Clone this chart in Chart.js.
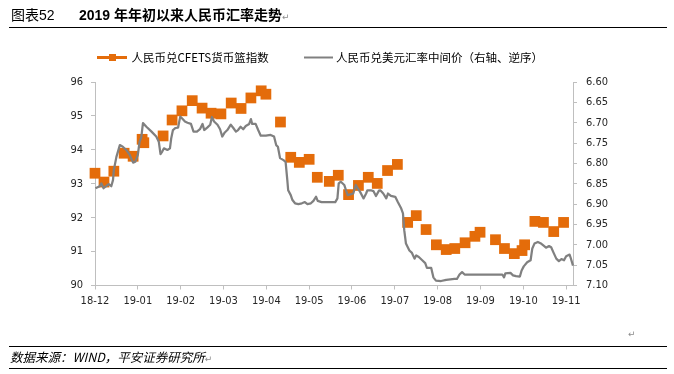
<!DOCTYPE html>
<html>
<head>
<meta charset="utf-8">
<script src="https://cdn.jsdelivr.net/npm/chart.js@4.4.1/dist/chart.umd.min.js"></script>
<style>
  html, body { margin:0; padding:0; background:#fff; width:674px; height:374px; overflow:hidden; }
  body { position:relative; font-family:"Liberation Sans","Noto Sans CJK SC",sans-serif; color:#000; }
  #c { position:absolute; left:0; top:0; }
  .txt { position:absolute; white-space:nowrap; line-height:16px; }
  .rule { position:absolute; left:9px; width:658px; height:1px; background:#000; }
  .pm { color:#8c8c8c; font-size:9px; font-family:"DejaVu Sans",sans-serif; }
</style>
</head>
<body>
<canvas id="c" width="674" height="374"></canvas>
<div class="txt" style="left:11px;top:7px;font-size:14px;">图表52</div>
<div class="txt" style="left:79px;top:7px;font-size:14px;font-weight:bold;">2019 年年初以来人民币汇率走势<span class="pm" style="font-weight:normal;">↵</span></div>
<div class="rule" style="top:27px;"></div>
<div class="txt pm" style="left:628px;top:326px;">↵</div>
<div class="rule" style="top:346px;"></div>
<div class="txt" style="left:10px;top:349px;font-size:12.5px;font-style:italic;font-family:'Noto Sans CJK SC',sans-serif;">数据来源：WIND，平安证券研究所<span class="pm" style="font-style:normal;">↵</span></div>
<div class="rule" style="top:368px;"></div>
<script>
// ---- data ----
const monthLabels = ['18-12','19-01','19-02','19-03','19-04','19-05','19-06','19-07','19-08','19-09','19-10','19-11'];
const leftTicks = [90, 91, 92, 93, 94, 95, 96];
const rightTicks = [6.60, 6.65, 6.70, 6.75, 6.80, 6.85, 6.90, 6.95, 7.00, 7.05, 7.10];
const seriesNames = ['人民币兑CFETS货币篮指数', '人民币兑美元汇率中间价（右轴、逆序）'];

// CFETS basket index (weekly), position in months since Dec 2018
const cfetsPos = [0.00,0.21,0.44,0.68,0.89,1.10,1.14,1.59,1.80,2.03,2.27,2.50,2.71,2.94,3.18,3.41,3.64,3.88,3.99,4.33,
  4.57,4.77,5.00,5.19,5.47,5.68,5.92,6.15,6.38,6.59,6.83,7.06,7.30,7.50,7.73,7.97,8.20,8.40,8.64,8.87,
  8.99,9.35,9.56,9.79,9.97,10.03,10.27,10.47,10.71,10.94];
const cfetsVals = [93.31,93.05,93.37,93.90,93.81,94.31,94.21,94.41,94.88,95.15,95.45,95.23,95.08,95.06,95.38,95.22,95.53,95.74,95.64,94.82,
  93.78,93.63,93.72,93.19,93.07,93.25,92.68,92.95,93.19,93.01,93.39,93.57,91.86,92.06,91.65,91.20,91.06,91.09,91.26,91.45,
  91.57,91.35,91.09,90.94,91.03,91.20,91.89,91.86,91.59,91.86];

// USD/CNY central parity (right axis, reversed)
const usdPos = [0.01,0.11,0.15,0.20,0.26,0.32,0.38,0.42,0.44,0.50,0.58,0.65,0.73,0.81,0.89,0.94,1.00,1.04,1.08,1.12,
  1.20,1.32,1.43,1.49,1.53,1.57,1.61,1.69,1.75,1.78,1.82,1.88,1.94,1.99,2.03,2.10,2.16,2.24,2.30,2.38,
  2.45,2.51,2.55,2.62,2.69,2.73,2.78,2.86,2.92,2.97,3.03,3.09,3.17,3.23,3.29,3.34,3.40,3.46,3.52,3.60,
  3.64,3.67,3.75,3.81,3.87,3.99,4.10,4.18,4.23,4.27,4.32,4.40,4.45,4.49,4.51,4.57,4.61,4.67,4.75,4.83,
  4.90,4.96,5.04,5.10,5.16,5.20,5.29,5.45,5.61,5.66,5.69,5.74,5.82,5.86,5.90,5.96,6.03,6.09,6.13,6.19,
  6.27,6.33,6.36,6.44,6.50,6.56,6.63,6.66,6.73,6.80,6.84,6.91,7.01,7.07,7.15,7.19,7.22,7.26,7.34,7.40,
  7.46,7.50,7.56,7.64,7.71,7.75,7.85,7.90,7.96,8.08,8.20,8.39,8.45,8.51,8.57,8.63,8.74,9.10,9.51,9.55,
  9.58,9.70,9.76,9.83,9.92,9.96,10.01,10.09,10.17,10.21,10.26,10.34,10.40,10.46,10.53,10.60,10.65,10.70,10.77,10.83,
  10.89,10.95,11.00,11.08,11.10,11.16];
const usdVals = [6.861,6.856,6.849,6.861,6.856,6.851,6.856,6.841,6.816,6.784,6.755,6.759,6.767,6.779,6.798,6.796,6.779,6.747,6.736,6.701,
  6.710,6.722,6.734,6.747,6.777,6.771,6.763,6.767,6.763,6.738,6.718,6.713,6.712,6.685,6.689,6.697,6.700,6.703,6.722,6.722,
  6.716,6.703,6.718,6.712,6.705,6.686,6.697,6.705,6.716,6.734,6.724,6.718,6.705,6.713,6.722,6.718,6.710,6.716,6.708,6.703,
  6.691,6.703,6.703,6.718,6.732,6.732,6.730,6.734,6.755,6.759,6.787,6.792,6.796,6.841,6.866,6.878,6.890,6.898,6.900,6.898,
  6.895,6.900,6.898,6.892,6.882,6.892,6.895,6.895,6.895,6.886,6.849,6.845,6.853,6.866,6.878,6.876,6.874,6.853,6.861,6.870,
  6.886,6.874,6.866,6.866,6.868,6.880,6.867,6.866,6.874,6.886,6.874,6.880,6.882,6.895,6.911,6.923,6.964,6.997,7.014,7.020,
  7.034,7.026,7.030,7.038,7.045,7.057,7.057,7.080,7.088,7.089,7.086,7.084,7.084,7.073,7.067,7.073,7.073,7.073,7.073,7.080,
  7.070,7.069,7.075,7.077,7.078,7.063,7.053,7.043,7.038,7.009,6.997,6.993,6.996,7.001,7.007,7.003,7.006,7.018,7.034,7.040,
  7.035,7.038,7.028,7.024,7.030,7.051];

// ---- styles ----
const ORANGE = '#E46C0A';
const GREY = '#808080';
const AXIS = '#BFBFBF';
const TICK_COLOR = '#262626';
const tickFont = { family: "'DejaVu Sans Condensed','Liberation Sans',sans-serif", size: 11 };

const legendPlugin = {
  id: 'manualLegend',
  afterDraw(chart) {
    const ctx = chart.ctx;
    const ds = chart.data.datasets;
    const y = 57.5;
    ctx.save();
    ctx.font = "11.5px 'Noto Sans CJK SC','Liberation Sans',sans-serif";
    ctx.textBaseline = 'middle';
    ctx.textAlign = 'left';
    // series 1: line + square marker
    ctx.strokeStyle = ds[0].backgroundColor;
    ctx.lineWidth = 3;
    ctx.beginPath(); ctx.moveTo(97, y); ctx.lineTo(127, y); ctx.stroke();
    ctx.fillStyle = ds[0].backgroundColor;
    ctx.fillRect(109, y - 3.5, 7, 7);
    ctx.fillStyle = '#000';
    ctx.fillText(ds[0].label, 131.5, y);
    // series 2: grey line
    ctx.strokeStyle = ds[1].borderColor;
    ctx.lineWidth = 2;
    ctx.beginPath(); ctx.moveTo(304, y); ctx.lineTo(333, y); ctx.stroke();
    ctx.fillStyle = '#000';
    ctx.fillText(ds[1].label, 336, y);
    ctx.restore();
  }
};

const axisGrid = { display: true, drawOnChartArea: false, drawTicks: true, tickLength: 4, color: AXIS, tickColor: AXIS, lineWidth: 1 };
const axisBorder = { display: true, color: AXIS, width: 1 };

new Chart(document.getElementById('c'), {
  type: 'line',
  data: {
    datasets: [
      {
        label: seriesNames[0],
        data: cfetsPos.map((x, i) => ({ x: x, y: cfetsVals[i] })),
        xAxisID: 'x', yAxisID: 'y',
        showLine: false,
        pointStyle: 'rect',
        pointRadius: 7.6, pointHoverRadius: 7.6,
        pointBorderWidth: 0,
        pointBackgroundColor: ORANGE,
        backgroundColor: ORANGE,
        borderColor: ORANGE,
        order: 2,
        clip: false
      },
      {
        label: seriesNames[1],
        data: usdPos.map((x, i) => ({ x: x, y: usdVals[i] })),
        xAxisID: 'x', yAxisID: 'y2',
        borderColor: GREY,
        backgroundColor: GREY,
        borderWidth: 2.25,
        borderJoinStyle: 'round',
        pointRadius: 0, pointHoverRadius: 0,
        tension: 0,
        fill: false,
        order: 1,
        clip: false
      }
    ]
  },
  options: {
    responsive: false,
    animation: false,
    events: [],
    layout: { padding: { top: 82, left: 0, right: 0, bottom: 0 } },
    plugins: { legend: { display: false }, tooltip: { enabled: false }, title: { display: false } },
    scales: {
      x: {
        type: 'linear', position: 'bottom', min: 0, max: 11.16,
        afterBuildTicks: s => { s.ticks = monthLabels.map((_, i) => ({ value: i })); },
        afterFit: s => { s.height = 374 - 285.5; },
        grid: axisGrid, border: axisBorder,
        ticks: { autoSkip: false, maxRotation: 0, minRotation: 0, padding: 5, color: TICK_COLOR, font: tickFont,
                 callback: v => monthLabels[Math.round(v)] }
      },
      y: {
        type: 'linear', position: 'left', min: 90, max: 96,
        afterBuildTicks: s => { s.ticks = leftTicks.map(v => ({ value: v })); },
        afterFit: s => { s.width = 95; },
        grid: axisGrid, border: axisBorder,
        ticks: { padding: 8, color: TICK_COLOR, font: tickFont, callback: v => String(v) }
      },
      y2: {
        type: 'linear', position: 'right', min: 6.6, max: 7.1, reverse: true,
        afterBuildTicks: s => { s.ticks = rightTicks.map(v => ({ value: v })); },
        afterFit: s => { s.width = 674 - 573; },
        grid: axisGrid, border: axisBorder,
        ticks: { padding: 9, color: TICK_COLOR, font: tickFont, callback: v => Number(v).toFixed(2) }
      }
    }
  },
  plugins: [legendPlugin]
});
</script>
</body>
</html>
